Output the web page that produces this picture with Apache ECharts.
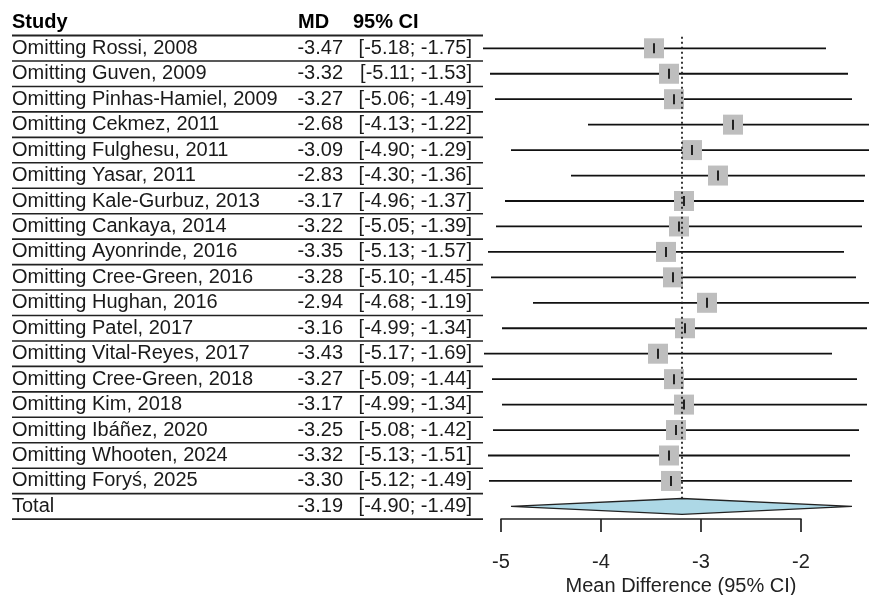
<!DOCTYPE html>
<html>
<head>
<meta charset="utf-8">
<script src="https://cdn.jsdelivr.net/npm/echarts@6/dist/echarts.min.js"></script>
<style>html,body{margin:0;padding:0;background:#fff}#c{width:869px;height:595px}</style>
</head>
<body>
<div id="c"></div>
<script>
// ---- data ----
const studies = ["Omitting Rossi, 2008", "Omitting Guven, 2009", "Omitting Pinhas-Hamiel, 2009", "Omitting Cekmez, 2011",
  "Omitting Fulghesu, 2011", "Omitting Yasar, 2011", "Omitting Kale-Gurbuz, 2013", "Omitting Cankaya, 2014",
  "Omitting Ayonrinde, 2016", "Omitting Cree-Green, 2016", "Omitting Hughan, 2016", "Omitting Patel, 2017",
  "Omitting Vital-Reyes, 2017", "Omitting Cree-Green, 2018", "Omitting Kim, 2018", "Omitting Ibáñez, 2020",
  "Omitting Whooten, 2024", "Omitting Foryś, 2025"];
const md =    [-3.47, -3.32, -3.27, -2.68, -3.09, -2.83, -3.17, -3.22, -3.35, -3.28, -2.94, -3.16, -3.43, -3.27, -3.17, -3.25, -3.32, -3.30];
const lower = [-5.18, -5.11, -5.06, -4.13, -4.90, -4.30, -4.96, -5.05, -5.13, -5.10, -4.68, -4.99, -5.17, -5.09, -4.99, -5.08, -5.13, -5.12];
const upper = [-1.75, -1.53, -1.49, -1.22, -1.29, -1.36, -1.37, -1.39, -1.57, -1.45, -1.19, -1.34, -1.69, -1.44, -1.34, -1.42, -1.51, -1.49];
const totalLabel = "Total";
const totalMd = -3.19, totalLower = -4.90, totalUpper = -1.49;
const headers = ["Study", "MD", "95% CI"];
const xTicks = [-5, -4, -3, -2];
const xTitle = "Mean Difference (95% CI)";

// ---- layout helpers ----
const FONT = '"Liberation Sans", Arial, sans-serif';
const n = studies.length;
const totalRow = n;
const yMin = -1.8978, yMax = 21.4814;
const fmt = v => v.toFixed(2);
const ciText = (l, u) => '[' + fmt(l) + '; ' + fmt(u) + ']';

const tableRows = studies.map((s, i) => [i, s, fmt(md[i]), ciText(lower[i], upper[i]), 0]);
tableRows.push([totalRow, totalLabel, fmt(totalMd), ciText(totalLower, totalUpper), 0]);
tableRows.push([-1, headers[0], headers[1], headers[2], 1]);

const boundaries = [];
for (let b = -0.5; b <= totalRow + 0.5; b += 1) boundaries.push([b]);

const chart = echarts.init(document.getElementById('c'), null, {renderer: 'canvas'});
const option = {
  animation: false,
  backgroundColor: '#fff',
  grid: [
    {left: 482, right: 0, top: 0, bottom: 0},
    {left: 0, right: 0, top: 0, bottom: 0},
    {left: 501, width: 300, top: 518, height: 1}
  ],
  xAxis: [
    {gridIndex: 0, type: 'value', min: -5.19, max: -1.32, show: false},
    {gridIndex: 1, type: 'value', min: 0, max: 869, show: false},
    {gridIndex: 2, type: 'value', min: xTicks[0], max: xTicks[xTicks.length - 1], interval: 1,
      axisLine: {show: true, onZero: false, lineStyle: {color: '#222', width: 1.7}},
      axisTick: {show: true, length: 13, lineStyle: {color: '#222', width: 1.7}},
      axisLabel: {fontSize: 20, fontFamily: FONT, color: '#222', margin: 33},
      splitLine: {show: false}}
  ],
  yAxis: [
    {gridIndex: 0, type: 'value', inverse: true, min: yMin, max: yMax, show: false},
    {gridIndex: 1, type: 'value', inverse: true, min: yMin, max: yMax, show: false},
    {gridIndex: 2, type: 'value', min: 0, max: 1, show: false}
  ],
  graphic: [
    {type: 'text', x: 681, y: 586, style: {text: xTitle, fontSize: 20, fontFamily: FONT, fill: '#222', align: 'center', verticalAlign: 'middle'}}
  ],
  series: [
    {
      type: 'custom', xAxisIndex: 0, yAxisIndex: 0, z: 2, clip: true,
      data: studies.map((s, i) => [lower[i], upper[i], i]),
      encode: {x: [0, 1], y: 2},
      renderItem: (params, api) => {
        const a = api.coord([api.value(0), api.value(2)]);
        const b = api.coord([api.value(1), api.value(2)]);
        return {type: 'line', shape: {x1: a[0], y1: a[1], x2: b[0], y2: b[1]}, style: {stroke: '#111', lineWidth: 1.8}};
      }
    },
    {
      type: 'scatter', xAxisIndex: 0, yAxisIndex: 0, z: 3, symbol: 'rect', symbolSize: 20,
      itemStyle: {color: '#bebebe', opacity: 1},
      data: md.map((v, i) => [v, i])
    },
    {
      type: 'scatter', xAxisIndex: 0, yAxisIndex: 0, z: 4, symbol: 'rect', symbolSize: [1.8, 10],
      itemStyle: {color: '#111', opacity: 1},
      data: md.map((v, i) => [v, i])
    },
    {
      type: 'line', xAxisIndex: 0, yAxisIndex: 0, z: 5, symbol: 'none',
      lineStyle: {color: '#222', width: 1.8, type: [2, 3]},
      data: [[totalMd, -0.45], [totalMd, totalRow - 0.3]]
    },
    {
      type: 'custom', xAxisIndex: 0, yAxisIndex: 0, z: 6,
      data: [[totalLower, totalMd, totalUpper, totalRow]],
      encode: {x: [0, 1, 2], y: 3},
      renderItem: (params, api) => {
        const r = api.value(3);
        const p1 = api.coord([api.value(0), r]);
        const p2 = api.coord([api.value(1), r - 0.31]);
        const p3 = api.coord([api.value(2), r]);
        const p4 = api.coord([api.value(1), r + 0.31]);
        return {type: 'polygon', shape: {points: [p1, p2, p3, p4]}, style: {fill: '#add8e6', stroke: '#222', lineWidth: 1.3}};
      }
    },
    {
      type: 'custom', xAxisIndex: 1, yAxisIndex: 1, z: 2,
      data: boundaries,
      encode: {y: 0},
      renderItem: (params, api) => {
        const a = api.coord([12, api.value(0)]);
        const b = api.coord([483, api.value(0)]);
        return {type: 'line', shape: {x1: a[0], y1: a[1], x2: b[0], y2: b[1]}, style: {stroke: '#222', lineWidth: params.dataIndex === 0 ? 2 : 1.6}};
      }
    },
    {
      type: 'custom', xAxisIndex: 1, yAxisIndex: 1, z: 3,
      data: tableRows,
      encode: {y: 0},
      renderItem: (params, api) => {
        const row = tableRows[params.dataIndex];
        const isHead = row[4] === 1;
        const p = api.coord([0, row[0]]);
        const c1 = api.coord([12, row[0]]);
        const c2 = api.coord(isHead ? [298, row[0]] : [343, row[0]]);
        const c3 = api.coord(isHead ? [353, row[0]] : [472, row[0]]);
        const base = {fontSize: 20, fontFamily: FONT, fill: isHead ? '#000' : '#1a1a1a', fontWeight: isHead ? 'bold' : 'normal', verticalAlign: 'middle'};
        return {
          type: 'group',
          children: [
            {type: 'text', x: c1[0], y: p[1], style: Object.assign({text: row[1], align: 'left'}, base)},
            {type: 'text', x: c2[0], y: p[1], style: Object.assign({text: row[2], align: isHead ? 'left' : 'right'}, base)},
            {type: 'text', x: c3[0], y: p[1], style: Object.assign({text: row[3], align: isHead ? 'left' : 'right'}, base)}
          ]
        };
      }
    }
  ]
};
chart.setOption(option);
</script>
</body>
</html>
